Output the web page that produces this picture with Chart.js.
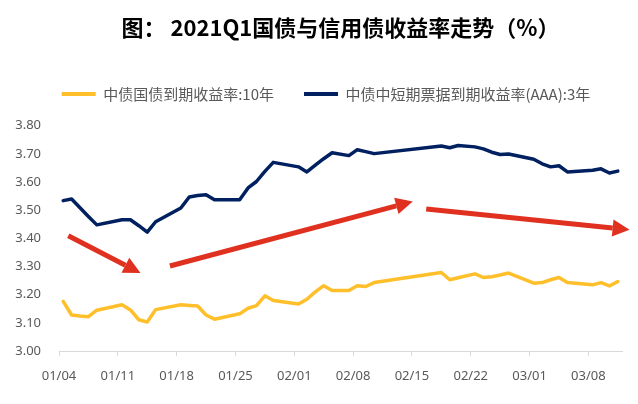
<!DOCTYPE html>
<html>
<head>
<meta charset="utf-8">
<script src="https://cdn.jsdelivr.net/npm/chart.js@4.4.1/dist/chart.umd.min.js"></script>
<style>
  html, body { margin: 0; padding: 0; background: #fff; }
  #wrap { width: 638px; height: 404px; }
</style>
</head>
<body>
<div id="wrap"><canvas id="chart"></canvas></div>
<script>
// 交易日（2021年）
const tradeDates = [
  '01/04','01/05','01/06','01/07','01/08',
  '01/11','01/12','01/13','01/14','01/15',
  '01/18','01/19','01/20','01/21','01/22',
  '01/25','01/26','01/27','01/28','01/29',
  '02/01','02/02','02/03','02/04','02/05','02/07',
  '02/08','02/09','02/10',
  '02/18','02/19','02/20',
  '02/22','02/23','02/24','02/25','02/26',
  '03/01','03/02','03/03','03/04','03/05',
  '03/08','03/09','03/10','03/11'
];

// 中债国债到期收益率:10年
const govt10y = [
  3.176, 3.128, 3.124, 3.122, 3.145,
  3.164, 3.146, 3.111, 3.103, 3.147,
  3.164, 3.162, 3.160, 3.128, 3.113,
  3.132, 3.152, 3.161, 3.196, 3.179,
  3.167, 3.184, 3.210, 3.232, 3.215, 3.215,
  3.232, 3.229, 3.243,
  3.279, 3.253, 3.260,
  3.274, 3.261, 3.264, 3.270, 3.277,
  3.241, 3.243, 3.253, 3.261, 3.243,
  3.235, 3.243, 3.231, 3.247
];

// 中债中短期票据到期收益率(AAA):3年
const mtn3y = [
  3.534, 3.540, 3.509, 3.478, 3.448,
  3.466, 3.466, 3.445, 3.422, 3.459,
  3.508, 3.547, 3.552, 3.555, 3.537,
  3.537, 3.579, 3.602, 3.638, 3.670,
  3.654, 3.636, 3.660, 3.683, 3.704, 3.694,
  3.715, 3.708, 3.701,
  3.728, 3.722, 3.730,
  3.725, 3.718, 3.706, 3.698, 3.700,
  3.681, 3.665, 3.654, 3.658, 3.636,
  3.642, 3.647, 3.632, 3.639
];

const tickLabels = ['01/04','01/11','01/18','01/25','02/01','02/08','02/15','02/22','03/01','03/08'];
const yTicks = [3.0, 3.1, 3.2, 3.3, 3.4, 3.5, 3.6, 3.7, 3.8];

// 趋势箭头：[起点日序, 起点收益率, 终点日序, 终点收益率]
const arrows = [
  [0.6, 3.409, 9.2, 3.277],
  [12.7, 3.302, 41.6, 3.531],
  [43.2, 3.504, 67.4, 3.431]
];

const dayIndex = (s) => {
  const [m, d] = s.split('/').map(Number);
  return Math.round((new Date(2021, m - 1, d) - new Date(2021, 0, 4)) / 86400000);
};

const lastDay = dayIndex(tradeDates[tradeDates.length - 1]);
const toPoints = (vals) => vals.map((v, i) => ({ x: dayIndex(tradeDates[i]), y: v }));

const tickFont = { family: 'Noto Sans', size: 13 };

const arrowPlugin = {
  id: 'arrows',
  afterLayout(chart) {
    // 图例整体右移一点
    chart.legend.left += 15;
    chart.legend.right += 15;
  },
  afterDatasetsDraw(chart) {
    const { ctx, scales: { x, y } } = chart;
    ctx.save();
    ctx.strokeStyle = '#df3020';
    ctx.fillStyle = '#df3020';
    ctx.lineWidth = 5;
    arrows.forEach(([x1, y1, x2, y2]) => {
      const ax = x.getPixelForValue(x1), ay = y.getPixelForValue(y1);
      const bx = x.getPixelForValue(x2), by = y.getPixelForValue(y2);
      const ang = Math.atan2(by - ay, bx - ax);
      const headLen = 17, headW = 8.5;
      const baseX = bx - headLen * Math.cos(ang), baseY = by - headLen * Math.sin(ang);
      ctx.beginPath();
      ctx.moveTo(ax, ay);
      ctx.lineTo(baseX, baseY);
      ctx.stroke();
      ctx.beginPath();
      ctx.moveTo(bx, by);
      ctx.lineTo(baseX + headW * Math.sin(ang), baseY - headW * Math.cos(ang));
      ctx.lineTo(baseX - headW * Math.sin(ang), baseY + headW * Math.cos(ang));
      ctx.closePath();
      ctx.fill();
    });
    ctx.restore();
  }
};

const ctx = document.getElementById('chart').getContext('2d');
new Chart(ctx, {
  type: 'line',
  data: {
    datasets: [
      {
        label: '中债国债到期收益率:10年',
        data: toPoints(govt10y),
        borderColor: '#ffbf2b',
        backgroundColor: '#ffbf2b',
        borderWidth: 3.5,
        pointRadius: 0,
        borderJoinStyle: 'round',
        borderCapStyle: 'round',
        tension: 0
      },
      {
        label: '中债中短期票据到期收益率(AAA):3年',
        data: toPoints(mtn3y),
        borderColor: '#002060',
        backgroundColor: '#002060',
        borderWidth: 3.5,
        pointRadius: 0,
        borderJoinStyle: 'round',
        borderCapStyle: 'round',
        tension: 0
      }
    ]
  },
  options: {
    responsive: true,
    maintainAspectRatio: false,
    animation: false,
    layout: { padding: { top: 0, right: 16, bottom: 0, left: 0 } },
    plugins: {
      title: {
        display: true,
        text: '图： 2021Q1国债与信用债收益率走势（%）',
        fullSize: false,
        color: '#000',
        font: { family: 'Noto Sans CJK SC', size: 22, weight: 'bold' },
        padding: { top: 14, bottom: 16 }
      },
      legend: {
        display: true,
        position: 'top',
        labels: {
          color: '#595959',
          font: { family: 'Noto Sans CJK SC', size: 15 },
          boxWidth: 34,
          boxHeight: 4,
          padding: 30,
          generateLabels: (chart) =>
            Chart.defaults.plugins.legend.labels.generateLabels(chart).map(l => ({ ...l, lineWidth: 0 }))
        }
      },
      tooltip: { enabled: false }
    },
    scales: {
      x: {
        type: 'linear',
        min: -0.5,
        max: lastDay + 0.5,
        afterBuildTicks: (s) => { s.ticks = tickLabels.map(t => ({ value: dayIndex(t) - 0.5 })); },
        afterFit: (s) => { s.height = 53; },
        ticks: {
          autoSkip: false,
          maxRotation: 0,
          padding: 12,
          color: '#595959',
          font: tickFont,
          callback: (v, i) => tickLabels[i]
        },
        grid: { drawOnChartArea: false, tickLength: 5, color: '#d9d9d9' },
        border: { color: '#d9d9d9' }
      },
      y: {
        min: 3.0,
        max: 3.851,
        afterBuildTicks: (s) => { s.ticks = yTicks.map(v => ({ value: v })); },
        afterFit: (s) => { s.width = 59; },
        ticks: {
          padding: 18,
          color: '#595959',
          font: tickFont,
          callback: (v) => v.toFixed(2)
        },
        grid: { display: false, drawTicks: false },
        border: { display: false }
      }
    }
  },
  plugins: [arrowPlugin]
});
</script>
</body>
</html>
